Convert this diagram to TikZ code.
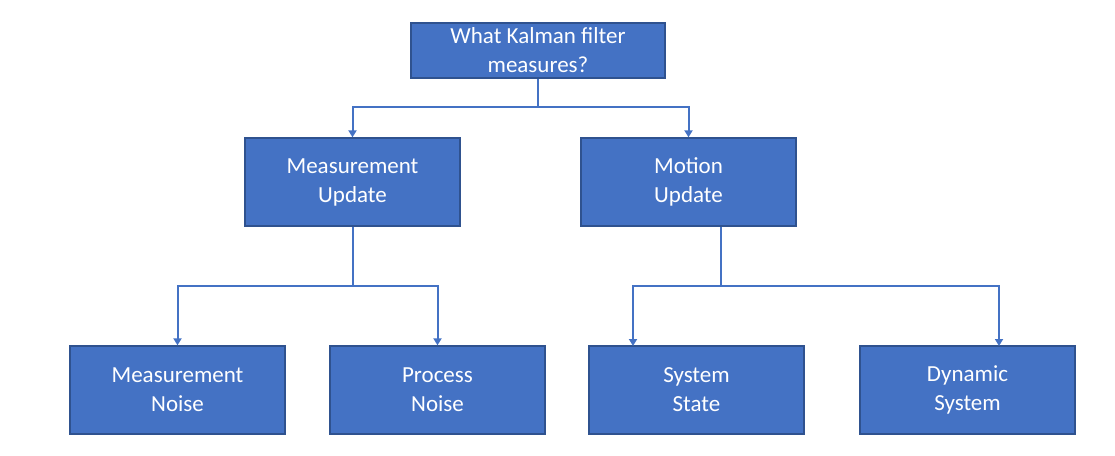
\documentclass[tikz,border=0pt]{standalone}
\usepackage{fontspec}
\setmainfont{Carlito}
\usetikzlibrary{arrows.meta, positioning}
\definecolor{kblue}{HTML}{4472C4}
\definecolor{kedge}{HTML}{2F528F}
\tikzset{
  every picture/.style={line width=1.3pt},
  box/.style={draw=kedge, fill=kblue, text=white, align=center, inner sep=0pt,
    minimum width=215pt, minimum height=88pt, font=\fontsize{23}{29}\selectfont},
  link/.style={draw=kblue, line width=2pt},
  arrow/.style={link, -{Triangle[length=7pt, width=8pt]}},
}

\begin{document}
\begin{tikzpicture}[x=1pt, y=-1pt]
  \useasboundingbox (0,0) rectangle (1115,455);
  % top question
  \node[box, minimum width=254pt, minimum height=55pt] (top) at (538,50.5) {What Kalman filter\\measures?};
  % update steps
  \node[box] (meas) at (352.5,182) {Measurement\\Update};
  \node[box] (mot) at (688.5,182) {Motion\\Update};
  % leaves
  \node[box] (mnoise) at (177.5,390) {Measurement\\Noise};
  \node[box] (pnoise) at (437.5,390) {Process\\Noise};
  \node[box] (state) at (696.5,390) {System\\State};
  \node[box] (dyn) at (967.5,390) {Dynamic\\System};
  % junctions
  \coordinate (tj) at (538,107);
  \coordinate (mj) at (352.5,286);
  \coordinate (oj) at (721,286);
  \coordinate (statein) at (633,346);
  \coordinate (dynin) at (999,346);
  \draw[link] (top) -- (tj);
  \draw[arrow] (tj) -| (meas);
  \draw[arrow] (tj) -| (mot);
  \draw[link] (meas) -- (mj);
  \draw[arrow] (mj) -| (mnoise);
  \draw[arrow] (mj) -| (pnoise);
  \draw[link] (oj |- mot.south) -- (oj);
  \draw[arrow] (oj) -| (statein);
  \draw[arrow] (oj) -| (dynin);
\end{tikzpicture}
\end{document}
